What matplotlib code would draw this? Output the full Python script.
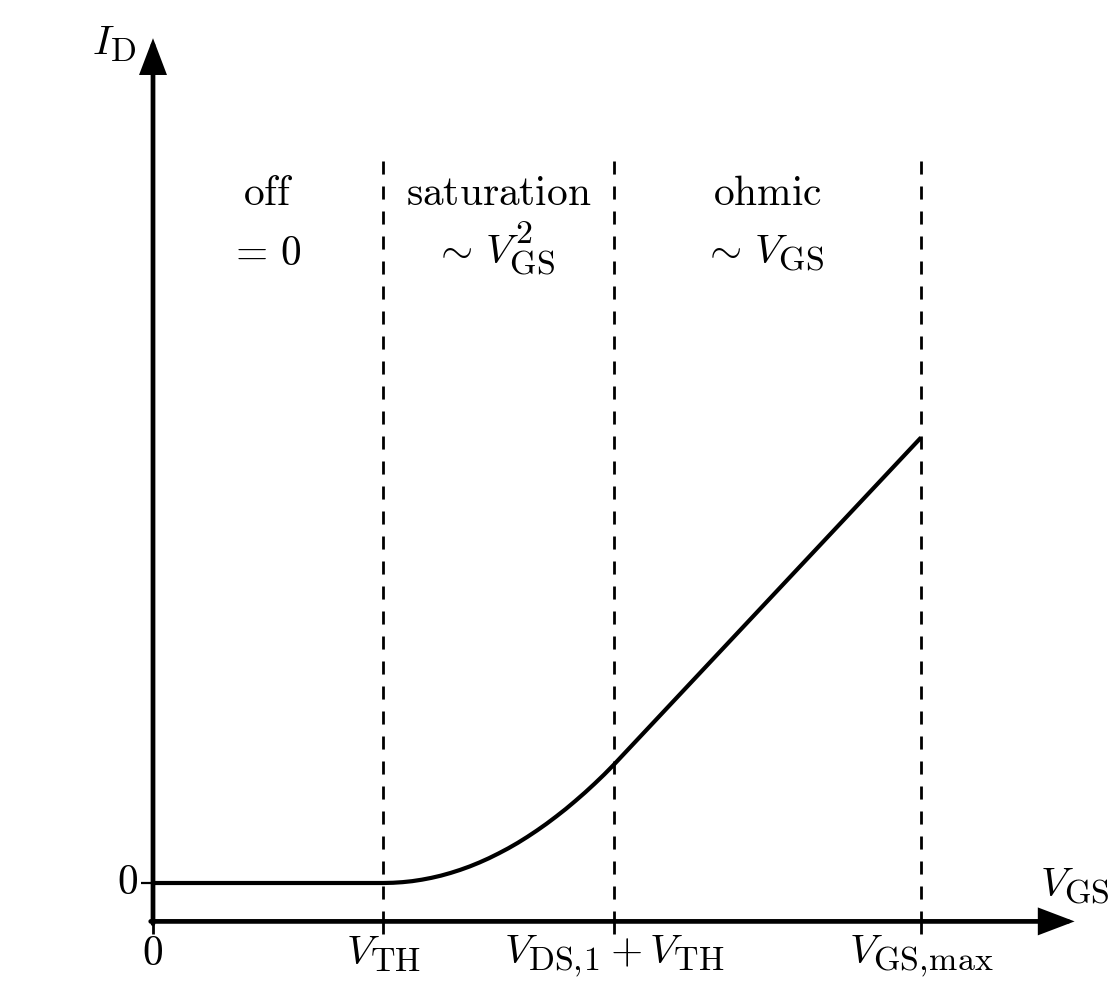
import matplotlib
matplotlib.use("Agg")
import matplotlib.pyplot as plt
import matplotlib._mathtext as _mt

plt.rcParams['mathtext.fontset'] = 'cm'
_mt.SHRINK_FACTOR = 0.82  # TeX-like larger sub/superscripts at big sizes

# ---- data ----
vgs = [0.0, 3.0, 3.125, 3.25, 3.375, 3.5, 3.625, 3.75, 3.875, 4.0, 4.125, 4.25, 4.375,
       4.5, 4.625, 4.75, 4.875, 5.0, 5.125, 5.25, 5.375, 5.5, 5.625, 5.75, 5.875, 6.0, 10.0]
i_d = [0.0, 0.0, 0.003, 0.011, 0.024, 0.043, 0.067, 0.096, 0.131, 0.171, 0.216, 0.267, 0.323,
       0.385, 0.451, 0.523, 0.601, 0.684, 0.772, 0.866, 0.964, 1.069, 1.178, 1.293, 1.413, 1.54, 5.80]

boundaries = [3.0, 6.0, 10.0]
x_tick_pos = [0.0, 3.0, 6.0, 10.0]
x_tick_labels = [r'$0$', r'$V_{\mathrm{TH}}$', r'$V_{\mathrm{DS},\!1}+V_{\mathrm{TH}}$',
                 r'$V_{\mathrm{GS},\!\mathrm{max}}$']
y_tick_pos = [0.0]
y_tick_labels = [r'$0$']

region_x = [1.5, 4.5, 8.0]
region_names = [r'$\mathrm{off}$', r'$\mathrm{saturation}$', r'$\mathrm{ohmic}$']
region_laws = [r'$=\,0$', r'$\sim\,V_{\mathrm{GS}}^2$', r'$\sim\,V_{\mathrm{GS}}$']
law_x = [1.46, 4.44, 7.94]

# ---- figure ----
fig = plt.figure(figsize=(11.13, 9.98), dpi=100)
ax = fig.add_axes([0, 0, 1, 1])
ax.set_xlim(-153 / 76.8, (1113 - 153) / 76.8)
ax.set_ylim((883 - 998) / 76.8, 883 / 76.8)
ax.axis('off')

y_axis = -0.5
fs = 29.8

# axes arrows
arrow_kw = dict(arrowstyle='-|>,head_length=1.0,head_width=0.38', mutation_scale=20,
                lw=3.4, color='black', shrinkA=0, shrinkB=0, joinstyle='miter')
ax.annotate('', xy=(12.0, y_axis), xytext=(-0.03, y_axis), arrowprops=arrow_kw)
ax.annotate('', xy=(0.0, 11.0), xytext=(0.0, y_axis - 0.03), arrowprops=arrow_kw)

# dashed region boundaries
for b in boundaries:
    ax.plot([b, b], [9.40, y_axis], color='black', lw=2.0, linestyle=(0, (4.7, 4.3)),
            solid_capstyle='butt', dash_capstyle='butt')

# ticks
for xp, lab in zip(x_tick_pos, x_tick_labels):
    ax.plot([xp, xp], [y_axis, y_axis - 0.16], color='black', lw=2.0, solid_capstyle='butt')
    ax.text(xp, -0.66, lab, ha='center', va='top', fontsize=fs)
for yp, lab in zip(y_tick_pos, y_tick_labels):
    ax.plot([-0.15, 0.0], [yp, yp], color='black', lw=1.6, solid_capstyle='butt')
    ax.text(-0.2, yp, lab, ha='right', va='center', fontsize=fs)

# curve
ax.plot(vgs, i_d, color='black', lw=3.0, solid_joinstyle='round', solid_capstyle='butt')

# axis labels
ax.text(-0.22, 10.92, r'$I_{\mathrm{D}}$', ha='right', va='center', fontsize=fs)
ax.text(12.0, -0.31, r'$V_{\mathrm{GS}}$', ha='center', va='bottom', fontsize=fs)

# region labels
for xr, lx, nm, law in zip(region_x, law_x, region_names, region_laws):
    ax.text(xr, 8.83, nm, ha='center', va='baseline', fontsize=fs)
    ax.text(lx, 8.05, law, ha='center', va='baseline', fontsize=fs)

fig.savefig('out.png', dpi=100)
